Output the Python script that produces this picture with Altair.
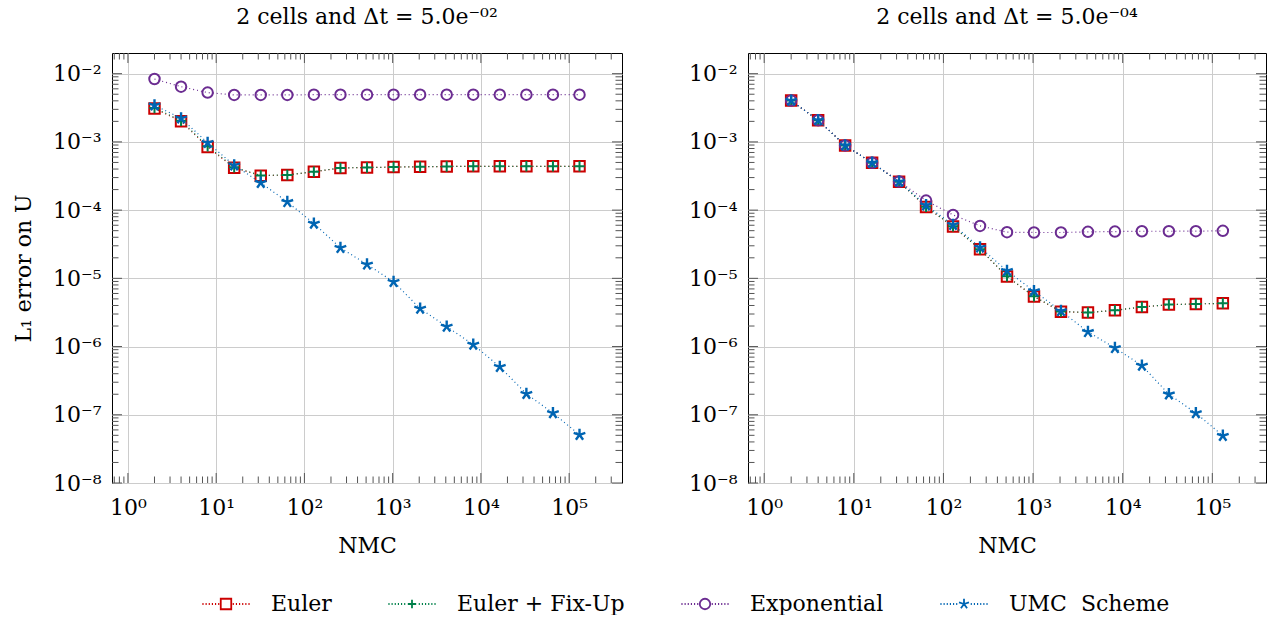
import altair as alt
import pandas as pd

# ---------------- data ----------------
nmc = [2, 4, 8, 16, 32, 64, 128, 256, 512, 1024, 2048, 4096, 8192, 16384, 32768, 65536, 131072]

# left panel: dt = 5.0e-02
euler_a = [3.08e-3, 2.01e-3, 8.4e-4, 4.19e-4, 3.2e-4, 3.27e-4, 3.65e-4, 4.14e-4, 4.22e-4,
           4.27e-4, 4.33e-4, 4.36e-4, 4.38e-4, 4.38e-4, 4.38e-4, 4.38e-4, 4.38e-4]
fixup_a = [3.15e-3, 2.05e-3, 8.6e-4, 4.25e-4, 3.22e-4, 3.28e-4, 3.66e-4, 4.15e-4, 4.22e-4,
           4.27e-4, 4.33e-4, 4.36e-4, 4.38e-4, 4.38e-4, 4.38e-4, 4.38e-4, 4.38e-4]
expo_a = [8.35e-3, 6.45e-3, 5.28e-3, 4.88e-3, 4.88e-3, 4.88e-3, 4.93e-3, 4.93e-3, 4.93e-3,
          4.93e-3, 4.93e-3, 4.93e-3, 4.93e-3, 4.93e-3, 4.93e-3, 4.93e-3, 4.93e-3]
umc_a = [3.44e-3, 2.22e-3, 9.7e-4, 4.53e-4, 2.52e-4, 1.32e-4, 6.36e-5, 2.8e-5, 1.6e-5,
         8.9e-6, 3.6e-6, 1.96e-6, 1.07e-6, 5.04e-7, 2.03e-7, 1.06e-7, 5.09e-8]

# right panel: dt = 5.0e-04
euler_b = [4.03e-3, 2.08e-3, 8.87e-4, 4.95e-4, 2.61e-4, 1.11e-4, 5.75e-5, 2.66e-5, 1.06e-5,
           5.4e-6, 3.25e-6, 3.15e-6, 3.4e-6, 3.8e-6, 4.12e-6, 4.21e-6, 4.3e-6]
fixup_b = [4.03e-3, 2.08e-3, 8.87e-4, 4.95e-4, 2.61e-4, 1.12e-4, 5.8e-5, 2.68e-5, 1.07e-5,
           5.45e-6, 3.27e-6, 3.15e-6, 3.4e-6, 3.8e-6, 4.12e-6, 4.21e-6, 4.3e-6]
expo_b = [4.03e-3, 2.08e-3, 8.87e-4, 4.95e-4, 2.63e-4, 1.38e-4, 8.5e-5, 5.87e-5, 4.75e-5,
          4.7e-5, 4.7e-5, 4.8e-5, 4.85e-5, 4.9e-5, 4.9e-5, 4.92e-5, 4.97e-5]
umc_b = [4.03e-3, 2.08e-3, 8.87e-4, 4.95e-4, 2.61e-4, 1.18e-4, 6.08e-5, 2.84e-5, 1.29e-5,
         6.5e-6, 3.33e-6, 1.64e-6, 9.55e-7, 5.27e-7, 2.0e-7, 1.06e-7, 4.93e-8]

series_names = ["Euler", "Euler + Fix-Up", "Exponential", "UMC\u00a0 Scheme"]
series_colors = ["#cc0000", "#00804a", "#6b2c91", "#0065b3"]
panel_titles = ["2 cells and \u0394t = 5.0e\u207b\u2070\u00b2", "2 cells and \u0394t = 5.0e\u207b\u2070\u2074"]

x_major = [1, 10, 100, 1000, 10000, 100000]
y_major = [1e-8, 1e-7, 1e-6, 1e-5, 1e-4, 1e-3, 1e-2]
x_domain = [0.6598, 397200]
y_domain = [1e-8, 0.0201]
x_minor = [m * 10.0 ** k for k in range(-1, 6) for m in range(2, 10)
           if x_domain[0] <= m * 10.0 ** k <= x_domain[1]]
y_minor = [m * 10.0 ** k for k in range(-8, -1) for m in range(2, 10)
           if m * 10.0 ** k < 0.0199]

# ---------------- style ----------------
FONT = "DejaVu Serif"
FS = 22
H = 430
SUP = "['\u2070','\u00b9','\u00b2','\u00b3','\u2074','\u2075','\u2076','\u2077','\u2078','\u2079']"
XEXPR = "'10' + " + SUP + "[round(log(datum.value)/LN10)]"
YEXPR = "'10\u207b' + " + SUP + "[round(-log(datum.value)/LN10)]"

plus_path = "M-1,0L1,0M0,-1L0,1"
star_path = ("M0,0L0,-1M0,0L0.951,-0.309M0,0L0.588,0.809"
             "M0,0L-0.588,0.809M0,0L-0.951,-0.309")
plot_shapes = ["square", plus_path, "circle", star_path]
plot_sizes = [110, 110, 110, 150]
plot_widths = [2, 2, 2, 2.4]


def dots():
    segs = []
    x = -4.5
    while x < -1.3:
        segs.append(f"M{x:.2f},0L{x + 0.22:.2f},0")
        segs.append(f"M{-x - 0.22:.2f},0L{-x:.2f},0")
        x += 0.6
    return "".join(segs)


legend_shapes = [
    "M-1,-1L1,-1L1,1L-1,1Z" + dots(),
    "M-0.8,0L0.8,0M0,-0.8L0,0.8" + dots(),
    "M1,0A1,1,0,1,1,-1,0A1,1,0,1,1,1,0Z" + dots(),
    star_path + dots(),
]

color_scale = alt.Scale(domain=series_names, range=series_colors)
shape_scale = alt.Scale(domain=series_names, range=plot_shapes)


def long_df(cols):
    rows = []
    for name, vals in zip(series_names, cols):
        for n, v in zip(nmc, vals):
            rows.append({"nmc": n, "err": v, "series": name})
    return pd.DataFrame(rows)


def panel(df, title, width, ytitle):
    xs = alt.Scale(type="log", domain=x_domain, nice=False)
    ys = alt.Scale(type="log", domain=y_domain, nice=False)
    xaxis = alt.Axis(values=x_major, labelExpr=XEXPR, grid=True, gridColor="#cccccc",
                     gridWidth=1, ticks=False, domain=False, title="NMC",
                     labelFont=FONT, labelFontSize=FS, labelColor="black", labelPadding=14,
                     labelFlush=False, titleFont=FONT, titleFontSize=FS,
                     titleFontWeight="normal", titleColor="black", titlePadding=17)
    yargs = dict(values=y_major, labelExpr=YEXPR, grid=True, gridColor="#cccccc",
                 gridWidth=1, ticks=False, domain=False, labelFont=FONT,
                 labelFontSize=FS, labelColor="black", labelPadding=11, labelFlush=False,
                 titleFont=FONT, titleFontSize=FS, titleFontWeight="normal",
                 titleColor="black", titlePadding=17)
    if ytitle:
        yaxis = alt.Axis(title=ytitle, **yargs)
    else:
        yaxis = alt.Axis(title=None, **yargs)
    X = alt.X("nmc:Q", scale=xs, axis=xaxis)
    Y = alt.Y("err:Q", scale=ys, axis=yaxis)

    layers = []
    for vals, L in [(x_major, 10), (x_minor, 6.5)]:
        d = pd.DataFrame({"nmc": vals})
        layers.append(alt.Chart(d).mark_rule(color="#555555", strokeWidth=1).encode(
            x=X, y=alt.value(H), y2=alt.value(H - L)))
        layers.append(alt.Chart(d).mark_rule(color="#555555", strokeWidth=1).encode(
            x=X, y=alt.value(0), y2=alt.value(L)))
    for vals, L in [(y_major, 10), (y_minor, 6.5)]:
        d = pd.DataFrame({"err": vals})
        layers.append(alt.Chart(d).mark_rule(color="#555555", strokeWidth=1).encode(
            y=Y, x=alt.value(0), x2=alt.value(L)))
        layers.append(alt.Chart(d).mark_rule(color="#555555", strokeWidth=1).encode(
            y=Y, x=alt.value(width), x2=alt.value(width - L)))

    color = alt.Color("series:N", scale=color_scale, legend=None)
    for name, sz, sw in zip(series_names, plot_sizes, plot_widths):
        sub = df[df["series"] == name]
        layers.append(alt.Chart(sub).mark_line(strokeDash=[1, 3], strokeWidth=1.2).encode(
            x=X, y=Y, color=color, order="nmc:Q"))
        layers.append(alt.Chart(sub).mark_point(filled=False, strokeWidth=sw, size=sz,
                                                opacity=1).encode(
            x=X, y=Y, color=color,
            shape=alt.Shape("series:N", scale=shape_scale, legend=None)))

    return alt.layer(*layers).properties(
        width=width, height=H,
        title=alt.TitleParams(title, font=FONT, fontSize=FS, fontWeight="normal",
                              color="black", anchor="middle", offset=24),
        view=alt.ViewBackground(stroke="black", strokeWidth=1),
    )


left = panel(long_df([euler_a, fixup_a, expo_a, umc_a]), panel_titles[0], 510,
             "L\u2081 error on U")
right = panel(long_df([euler_b, fixup_b, expo_b, umc_b]), panel_titles[1], 518, None)

leg = alt.Legend(title=None, orient="none", legendX=103, legendY=6, direction="horizontal",
                 columns=4, symbolSize=110, symbolStrokeWidth=1.8, symbolOpacity=1,
                 labelFont=FONT, labelFontSize=FS, labelColor="black", labelOffset=34,
                 columnPadding=52, labelLimit=400)
legend_chart = alt.Chart(pd.DataFrame({"series": series_names})).transform_filter(
    "false").mark_point(filled=False).encode(
    color=alt.Color("series:N", scale=alt.Scale(domain=series_names, range=series_colors),
                    legend=leg),
    shape=alt.Shape("series:N", scale=alt.Scale(domain=series_names, range=legend_shapes),
                    legend=leg),
).properties(width=1000, height=10)

chart = alt.vconcat(
    alt.hconcat(left, right, spacing=65),
    legend_chart,
    spacing=30,
).resolve_scale(color="independent", shape="independent").configure_view(
    stroke="transparent"
).properties(padding={"left": 12, "top": 5, "right": 5, "bottom": 0}, background="white")

chart.save("out.html", embed_options={"renderer": "svg", "actions": False})
